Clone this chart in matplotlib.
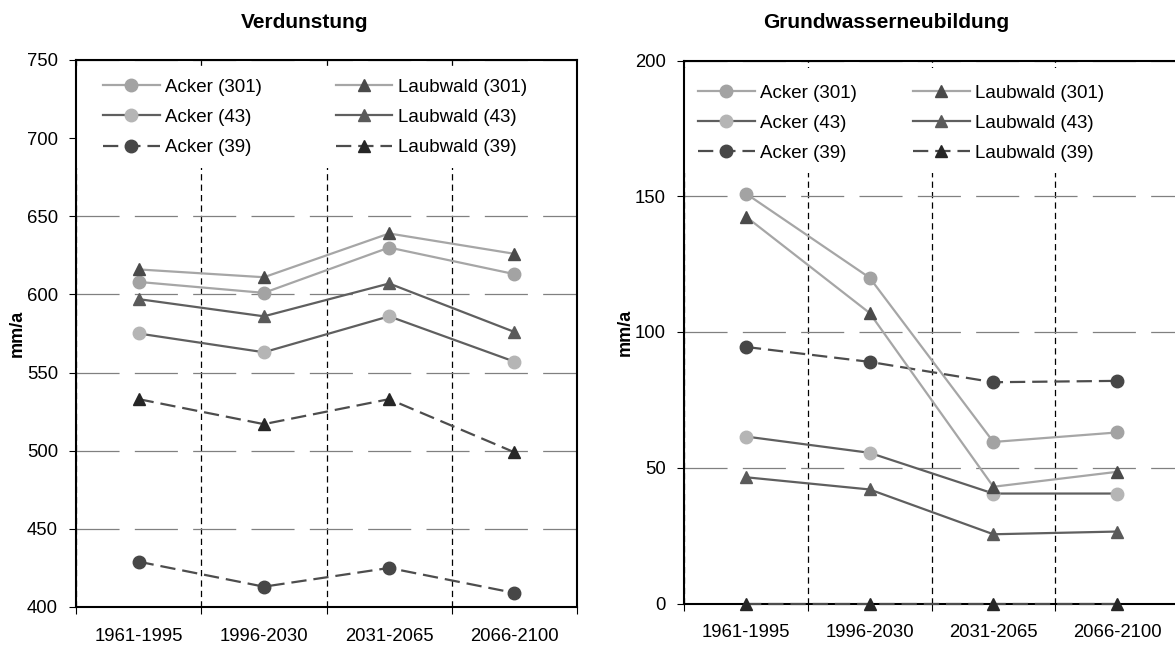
import numpy as np
import matplotlib
matplotlib.use("Agg")
from matplotlib import pyplot as plt
from matplotlib.patches import Rectangle
from matplotlib.ticker import FixedLocator

plt.rcParams['font.family'] = ['Liberation Sans', 'DejaVu Sans']
plt.rcParams['lines.scale_dashes'] = False

periods = ["1961-1995", "1996-2030", "2031-2065", "2066-2100"]

# Verdunstung (mm/a)
verd_acker_301 = [608, 601, 630, 613]
verd_laub_301 = [616, 611, 639, 626]
verd_acker_43 = [575, 563, 586, 557]
verd_laub_43 = [597, 586, 607, 576]
verd_acker_39 = [429, 413, 425, 409]
verd_laub_39 = [533, 517, 533, 499]

# Grundwasserneubildung (mm/a)
gwn_acker_301 = [151, 120, 59.5, 63]
gwn_laub_301 = [142.5, 107, 43, 48.5]
gwn_acker_43 = [61.5, 55.5, 40.5, 40.5]
gwn_laub_43 = [46.5, 42, 25.5, 26.5]
gwn_acker_39 = [94.5, 89, 81.5, 82]
gwn_laub_39 = [0, 0, 0, 0]

labels = ["Acker (301)", "Acker (43)", "Acker (39)",
          "Laubwald (301)", "Laubwald (43)", "Laubwald (39)"]

# (line colour, marker, marker colour, linestyle)
styles = [
    ("#a6a6a6", "o", "#a3a3a3", "-"),
    ("#5f5f5f", "o", "#b5b5b5", "-"),
    ("#4d4d4d", "o", "#474747", (0, (11, 5))),
    ("#a6a6a6", "^", "#4a4a4a", "-"),
    ("#5f5f5f", "^", "#5a5a5a", "-"),
    ("#4d4d4d", "^", "#262626", (0, (11, 5))),
]

W, H = 1175, 645
fig = plt.figure(figsize=(W / 100, H / 100), dpi=100)


def px_axes(x0, x1, ytop, ybot):
    return fig.add_axes([x0 / W, 1 - ybot / H, (x1 - x0) / W, (ybot - ytop) / H])


def draw(ax, series, ylim, leg_anchor, colspace, leg_box):
    x = np.arange(len(periods))
    handles = []
    for vals, (lc, mk, mc, ls) in zip(series, styles):
        h, = ax.plot(x, vals, color=lc, lw=1.6, ls=ls, marker=mk, ms=9,
                     mfc=mc, mec=mc, zorder=3, clip_on=False)
        handles.append(h)
    ax.set_xlim(-0.5, len(periods) - 0.5)
    ax.set_ylim(*ylim)
    ax.set_yticks(np.arange(ylim[0], ylim[1] + 1, 50))
    ax.set_xticks(x)
    ax.set_xticklabels(periods)
    ax.xaxis.set_minor_locator(FixedLocator(np.arange(-0.5, len(periods), 1.0)))
    ax.tick_params(axis='x', which='major', length=0, pad=15, labelsize=13.3)
    ax.tick_params(axis='x', which='minor', length=5, width=0.8, direction='out')
    ax.tick_params(axis='y', length=5, width=0.8, direction='out', labelsize=13.3, pad=8)
    ax.grid(axis='y', which='major', color='#808080', lw=0.9, linestyle=(0, (31, 11)))
    ax.grid(axis='x', which='minor', color='black', lw=0.9, linestyle=(0, (4.5, 3)))
    ax.set_axisbelow(True)
    for s in ax.spines.values():
        s.set_linewidth(1.5)
    # white legend area across the plot width
    ax.add_patch(Rectangle((0, leg_box[0]), 1, leg_box[1] - leg_box[0],
                           transform=ax.transAxes, fc='white', ec='none', zorder=1))
    ax.legend(handles, labels, ncol=2, loc='upper left', bbox_to_anchor=leg_anchor,
              borderaxespad=0, borderpad=0.55, frameon=False,
              fontsize=13.5, handlelength=3.0, handletextpad=0.3,
              labelspacing=0.7, columnspacing=colspace)
    ax.set_ylabel("mm/a", fontsize=13, fontweight='bold', labelpad=1)


ax1 = px_axes(76, 577, 60, 607)
draw(ax1, [verd_acker_301, verd_acker_43, verd_acker_39,
           verd_laub_301, verd_laub_43, verd_laub_39],
     (400, 750), (0.034, 0.985), 3.95, (0.803, 0.989))

ax2 = px_axes(684, 1179, 60.5, 603.5)
draw(ax2, [gwn_acker_301, gwn_acker_43, gwn_acker_39,
           gwn_laub_301, gwn_laub_43, gwn_laub_39],
     (0, 200), (0.008, 0.975), 3.0, (0.793, 0.986))

fig.text(305 / W, 1 - 22 / H, "Verdunstung", ha='center', va='center',
         fontsize=15, fontweight='bold')
fig.text(886 / W, 1 - 22 / H, "Grundwasserneubildung", ha='center', va='center',
         fontsize=15, fontweight='bold')

fig.savefig("out.png", dpi=100)
